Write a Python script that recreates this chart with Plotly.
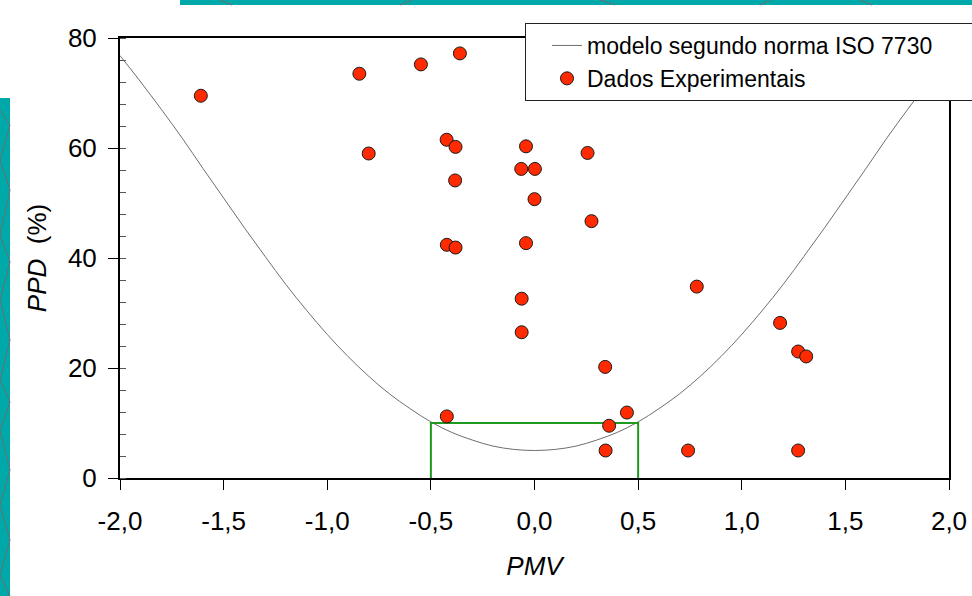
import plotly.graph_objects as go

# ---------------- data ----------------
pmv_model = [-2.0, -1.9, -1.8, -1.7, -1.6, -1.5, -1.4, -1.3, -1.2, -1.1, -1.0,
             -0.9, -0.8, -0.7, -0.6, -0.5, -0.4, -0.3, -0.2, -0.1, 0.0,
             0.1, 0.2, 0.3, 0.4, 0.5, 0.6, 0.7, 0.8, 0.9, 1.0,
             1.1, 1.2, 1.3, 1.4, 1.5, 1.6, 1.7, 1.8, 1.9, 2.0]
ppd_model = [76.8, 72.0, 67.0, 61.8, 56.3, 50.9, 45.5, 40.3, 35.2, 30.5, 26.1,
             22.1, 18.5, 15.3, 12.6, 10.2, 8.3, 6.9, 5.8, 5.2, 5.0,
             5.2, 5.8, 6.9, 8.3, 10.2, 12.6, 15.3, 18.5, 22.1, 26.1,
             30.5, 35.2, 40.3, 45.5, 50.9, 56.3, 61.8, 67.0, 72.0, 76.8]

pmv_exp = [-1.61, -0.845, -0.548, -0.36, -0.80, -0.424, -0.381, -0.041, 0.256,
           -0.064, 0.002, -0.383, 0.0, 0.275, -0.423, -0.381, -0.041, -0.062,
           -0.062, 0.783, 1.185, 1.272, 1.311, 0.341, -0.423, 0.446, 0.360,
           0.343, 0.741, 1.272]
ppd_exp = [69.5, 73.5, 75.2, 77.2, 59.0, 61.5, 60.2, 60.3, 59.1,
           56.2, 56.2, 54.1, 50.7, 46.7, 42.4, 41.9, 42.7, 32.6,
           26.5, 34.8, 28.2, 23.0, 22.1, 20.2, 11.2, 11.9, 9.5,
           5.0, 5.0, 5.0]

comfort_pmv = [-0.5, -0.5, 0.5, 0.5]
comfort_ppd = [0, 10, 10, 0]

x_ticks = [-2.0, -1.5, -1.0, -0.5, 0.0, 0.5, 1.0, 1.5, 2.0]
x_tick_labels = ["-2,0", "-1,5", "-1,0", "-0,5", "0,0", "0,5", "1,0", "1,5", "2,0"]
y_ticks = [0, 20, 40, 60, 80]

name_model = "modelo segundo norma ISO 7730"
name_exp = "Dados Experimentais"

# ---------------- layout helpers ----------------
W, H = 972, 596
ML, MR, MT, MB = 120, 23, 38, 118
PW, PH = W - ML - MR, H - MT - MB


def xp(px):
    return (px - ML) / PW


def yp(py):
    return (H - MB - py) / PH


FONT = "Liberation Sans, Arial, sans-serif"
TEAL = "#00a9a9"

fig = go.Figure()

fig.add_trace(go.Scatter(
    x=pmv_model, y=ppd_model, mode="lines", name=name_model,
    line=dict(color="#6e6e6e", width=1, shape="spline"),
))
fig.add_trace(go.Scatter(
    x=comfort_pmv, y=comfort_ppd, mode="lines", showlegend=False,
    line=dict(color="#1f9a1f", width=2), hoverinfo="skip",
))
fig.add_trace(go.Scatter(
    x=pmv_exp, y=ppd_exp, mode="markers", name=name_exp,
    marker=dict(color="#ff2a00", size=13, line=dict(color="#1a1a1a", width=1)),
))

shapes = [
    dict(type="rect", xref="paper", yref="paper", x0=xp(0), x1=xp(10),
         y0=yp(H), y1=yp(98), fillcolor=TEAL, line=dict(width=0), layer="below"),
    dict(type="rect", xref="paper", yref="paper", x0=xp(180), x1=xp(W),
         y0=yp(5), y1=yp(0), fillcolor=TEAL, line=dict(width=0), layer="below"),
]
# decorative pattern lines on teal strips
zig = [(0, 110, 10, 125), (10, 125, 0, 160), (0, 160, 10, 190), (10, 190, 0, 235),
       (0, 235, 10, 262), (10, 262, 0, 300), (0, 300, 10, 340), (10, 340, 0, 380),
       (0, 380, 10, 402), (10, 402, 0, 430), (0, 430, 10, 470), (10, 470, 0, 505),
       (0, 505, 10, 540), (10, 540, 0, 575), (0, 575, 10, 596),
       (220, 0, 232, 5), (400, 5, 412, 0), (600, 0, 615, 5), (760, 5, 770, 0),
       (860, 0, 872, 5)]
for a, b, c, d in zig:
    shapes.append(dict(type="line", xref="paper", yref="paper",
                       x0=xp(a), y0=yp(b), x1=xp(c), y1=yp(d),
                       line=dict(color="#6d6d6d", width=1), layer="below"))

fig.update_layout(
    width=W, height=H,
    margin=dict(l=ML, r=MR, t=MT, b=MB, autoexpand=False),
    paper_bgcolor="white", plot_bgcolor="white",
    font=dict(family=FONT, size=26, color="black"),
    separators=",.",
    showlegend=True,
    legend=dict(
        x=xp(525), y=yp(23), xanchor="left", yanchor="top",
        orientation="h", entrywidth=440, entrywidthmode="pixels",
        indentation=21,
        bgcolor="white", bordercolor="#222", borderwidth=1,
        font=dict(family=FONT, size=23, color="black"),
    ),
    shapes=shapes,
)

fig.update_xaxes(
    range=[-2, 2], tickvals=x_ticks, ticktext=x_tick_labels,
    ticks="outside", ticklen=10, tickcolor="black", tickwidth=1,
    ticklabelstandoff=9,
    showline=True, linecolor="black", linewidth=2, mirror=True,
    showgrid=False, zeroline=False,
    tickfont=dict(family=FONT, size=26, color="black"),
    title=dict(text="<i>PMV</i>", standoff=22,
               font=dict(family=FONT, size=26, color="black")),
)
fig.update_yaxes(
    range=[0, 80], tickvals=y_ticks,
    ticks="outside", ticklen=10, tickcolor="black", tickwidth=1,
    ticklabelstandoff=6,
    minor=dict(dtick=4, ticks="inside", ticklen=6, tickcolor="#555"),
    showline=True, linecolor="black", linewidth=2, mirror=True,
    showgrid=False, zeroline=False,
    tickfont=dict(family=FONT, size=26, color="black"),
    title=dict(text="<i>PPD</i>\u00a0 (%)", standoff=14,
               font=dict(family=FONT, size=26, color="black")),
)

fig.write_html("out.html", config={"displayModeBar": False},
               post_script="document.body.style.margin='0px';")
